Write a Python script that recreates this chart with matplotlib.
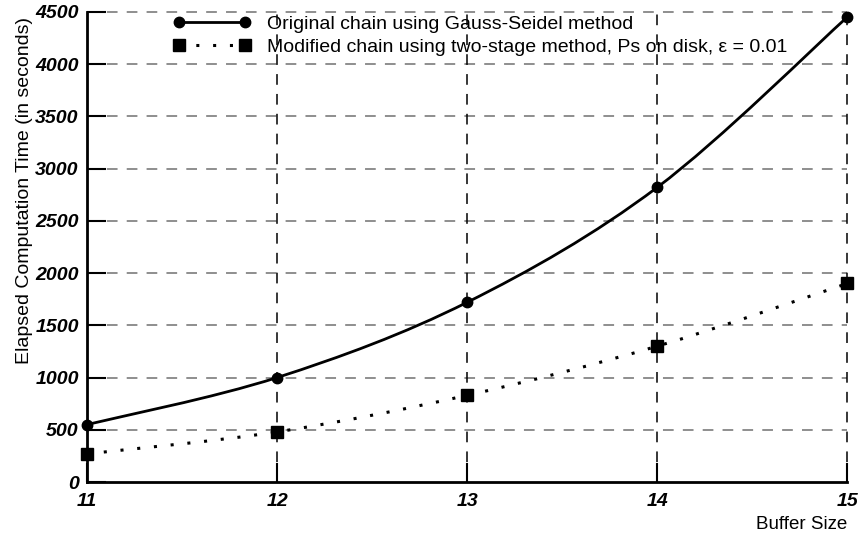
import numpy as np
import matplotlib.pyplot as plt
from matplotlib.path import Path
from matplotlib.patches import PathPatch
from matplotlib.lines import Line2D

buffer_size = [11, 12, 13, 14, 15]
gauss_seidel = [550, 1000, 1720, 2820, 4450]
two_stage = [270, 480, 830, 1300, 1900]

plt.rcParams['font.family'] = ['Liberation Sans', 'DejaVu Sans']


def smooth_path(x, y):
    # Catmull-Rom through the measured points, expressed as cubic Bezier segments
    x = np.asarray(x, float)
    y = np.asarray(y, float)
    verts = [(x[0], y[0])]
    codes = [Path.MOVETO]
    n = len(x)
    for i in range(n - 1):
        p0 = (x[max(i - 1, 0)], y[max(i - 1, 0)])
        p1 = (x[i], y[i])
        p2 = (x[i + 1], y[i + 1])
        p3 = (x[min(i + 2, n - 1)], y[min(i + 2, n - 1)])
        c1 = (p1[0] + (p2[0] - p0[0]) / 6, p1[1] + (p2[1] - p0[1]) / 6)
        c2 = (p2[0] - (p3[0] - p1[0]) / 6, p2[1] - (p3[1] - p1[1]) / 6)
        verts += [c1, c2, p2]
        codes += [Path.CURVE4] * 3
    return Path(verts, codes)


fig = plt.figure(figsize=(8.62, 5.35), dpi=100)
ax = fig.add_axes([0.101, 0.099, 0.882, 0.879])

ax.add_patch(PathPatch(smooth_path(buffer_size, gauss_seidel), fill=False,
                       color='black', lw=2, zorder=3))
ax.add_patch(PathPatch(smooth_path(buffer_size, two_stage), fill=False,
                       color='black', lw=2.2, linestyle=(0, (1, 4.5)), zorder=3))
ax.plot(buffer_size, gauss_seidel, 'o', color='black', ms=7.5, clip_on=False, zorder=4)
ax.plot(buffer_size, two_stage, 's', color='black', ms=8, clip_on=False, zorder=4)

ax.set_xlim(11, 15)
ax.set_ylim(0, 4500)
ax.set_xticks(buffer_size)
ax.set_yticks(np.arange(0, 4501, 500))

for y in np.arange(500, 4501, 500):
    ax.axhline(y, color='#707070', lw=1.1, ls=(0, (7, 6)), zorder=1, clip_on=False)
for x in buffer_size[1:]:
    ax.axvline(x, color='black', lw=1.1, ls=(0, (7, 6)), zorder=1, clip_on=False)

for s in ['top', 'right']:
    ax.spines[s].set_visible(False)
ax.spines['left'].set_linewidth(2)
ax.spines['bottom'].set_linewidth(2)
ax.tick_params(direction='in', length=14, width=1.5)
ax.tick_params(axis='x', pad=8)
ax.tick_params(axis='y', pad=6)
for lab in ax.get_xticklabels() + ax.get_yticklabels():
    lab.set_fontweight('bold')
    lab.set_fontstyle('italic')
    lab.set_fontsize(14)

ax.set_ylabel('Elapsed Computation Time (in seconds)', fontsize=14)
ax.yaxis.set_label_coords(-0.071, 0.62)
ax.set_xlabel('Buffer Size', fontsize=13.5, loc='right', labelpad=4)

h1 = Line2D([], [], color='black', lw=2, marker='o', ms=7.5)
h2 = Line2D([], [], color='black', lw=2.2, ls=(0, (1, 4.5)), marker='s', ms=8)
ax.legend([h1, h2],
          ['Original chain using Gauss-Seidel method',
           'Modified chain using two-stage method, Ps on disk, \u03b5 = 0.01'],
          loc='upper left', bbox_to_anchor=(0.113, 0.992), frameon=False,
          borderaxespad=0, borderpad=0,
          numpoints=2, handlelength=4.0, handletextpad=0.85, fontsize=14,
          labelspacing=0.25)

fig.savefig('out.png', dpi=100)
